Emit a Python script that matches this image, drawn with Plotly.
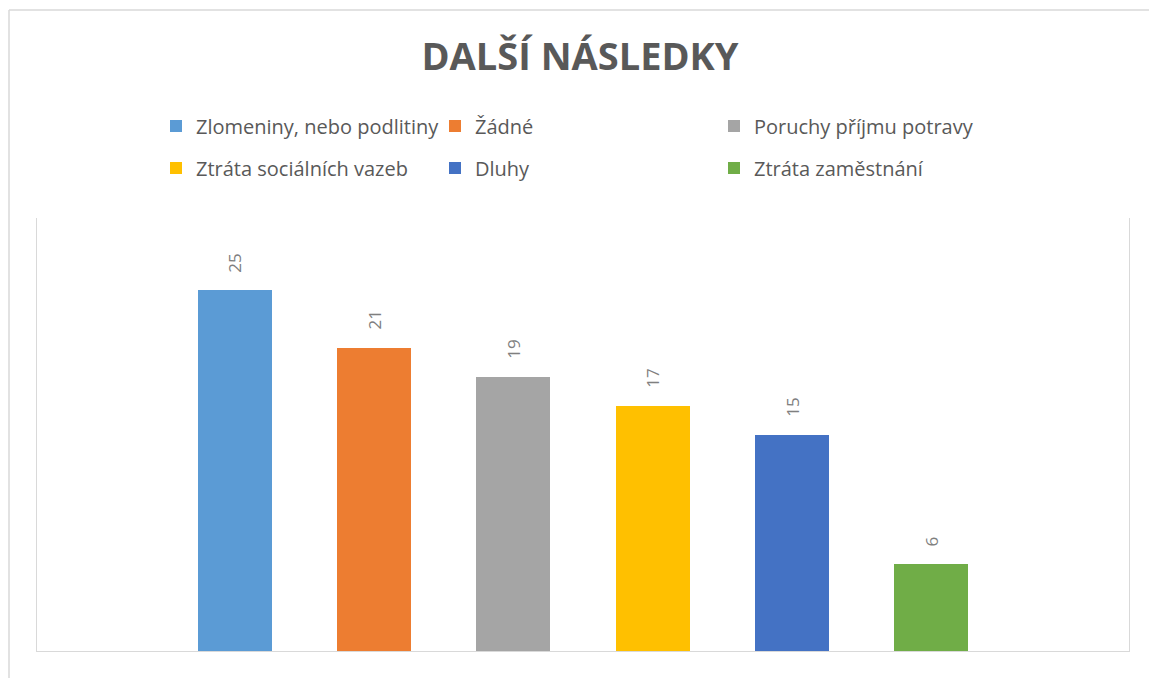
import plotly.graph_objects as go

categories = ["Zlomeniny, nebo podlitiny", "Žádné", "Poruchy příjmu potravy",
              "Ztráta sociálních vazeb", "Dluhy", "Ztráta zaměstnání"]
values = [25, 21, 19, 17, 15, 6]
colors = ["#5B9BD5", "#ED7D31", "#A5A5A5", "#FFC000", "#4472C4", "#70AD47"]
title_text = "DALŠÍ NÁSLEDKY"

FONT = "Open Sans"
OFF = 8                      # page body margin offset
W, H = 1157 - OFF, 678 - OFF
# plot area in reference (window) pixels
PX0, PX1, PY0, PY1 = 37, 1129, 218, 651
L, R, T, B = PX0 - OFF, W - (PX1 - OFF), PY0 - OFF, H - (PY1 - OFF)
pw, ph = PX1 - PX0, PY1 - PY0

def px_x(x):
    return (x - PX0) / pw

def px_y(y):
    return (PY1 - y) / ph

fig = go.Figure()
for i, (name, v, c) in enumerate(zip(categories, values, colors)):
    fig.add_trace(go.Bar(
        x=[i], y=[v], name=name, marker=dict(color=c, line=dict(width=0)),
        width=0.5316, legend="legend" if i < 3 else "legend2",
        hoverinfo="name+y",
    ))
    fig.add_annotation(x=i, y=v, text=str(v), showarrow=False, textangle=-90,
                       yanchor="bottom", xanchor="center", yshift=16,
                       font=dict(family=FONT, size=17, color="#7F7F7F"))

legend_common = dict(orientation="h", xanchor="left", yanchor="middle",
                     entrywidth=234, entrywidthmode="pixels",
                     font=dict(family=FONT, size=20, color="#595959"),
                     bgcolor="rgba(0,0,0,0)", itemclick=False, itemdoubleclick=False,
                     traceorder="normal")

fig.update_layout(
    width=W, height=H,
    margin=dict(l=L, r=R, t=T, b=B, pad=0),
    paper_bgcolor="white", plot_bgcolor="white",
    title=dict(text=title_text, x=(580 - OFF) / W, xanchor="center",
               y=1 - (57 - OFF) / H, yanchor="middle", yref="container",
               font=dict(family=FONT, size=38, color="#595959", weight="bold")),
    showlegend=True,
    legend=dict(x=px_x(156), y=px_y(126), **legend_common),
    legend2=dict(x=px_x(156), y=px_y(168), **legend_common),
    xaxis=dict(range=[-1.422, 6.422], showline=True, linecolor="#D9D9D9", linewidth=1,
               showgrid=False, zeroline=False, showticklabels=False, ticks="",
               fixedrange=True),
    yaxis=dict(range=[0, 30], showline=True, mirror=True, linecolor="#D9D9D9", linewidth=1,
               showgrid=False, zeroline=False, showticklabels=False, ticks="",
               fixedrange=True),
    bargap=0,
)

# outer chart-area border (top and left edges visible)
fig.add_shape(type="line", xref="paper", yref="paper", x0=px_x(9), x1=px_x(1170),
              y0=px_y(10), y1=px_y(10), line=dict(color="#D9D9D9", width=1.5))
fig.add_shape(type="line", xref="paper", yref="paper", x0=px_x(9), x1=px_x(9),
              y0=px_y(10), y1=px_y(690), line=dict(color="#D9D9D9", width=1.5))

fig.write_html("out.html")
